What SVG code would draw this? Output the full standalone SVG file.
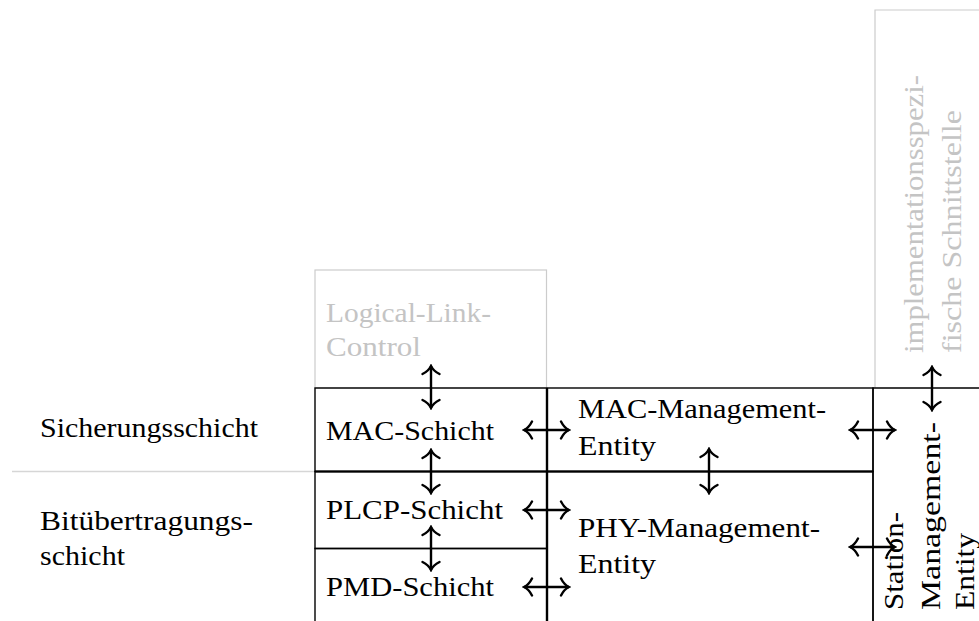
<svg xmlns="http://www.w3.org/2000/svg" width="979" height="621" viewBox="0 0 979 621">
  <style>
    .t { font-family: 'Liberation Serif', 'Times New Roman', serif; font-size: 28px; fill: #000; }
    .dim { font-family: 'Liberation Serif', 'Times New Roman', serif; font-size: 28px; fill: #c4c4c4; }
    .box { fill: none; stroke: #000; stroke-width: 1.4; }
    .gbox { fill: none; stroke: #cccccc; stroke-width: 1.2; }
    .sep { stroke: #000; stroke-width: 2; }
    .arr { stroke: #000; stroke-width: 2.4; fill: none; marker-start: url(#tip); marker-end: url(#tip); }
  </style>
  <defs>
    <marker id="tip" markerUnits="userSpaceOnUse" viewBox="-12 -12 14 24" markerWidth="14" markerHeight="24" refX="0" refY="0" orient="auto-start-reverse">
      <path d="M-8,-8.5 C-6,-4.5 -2.5,-1.2 0,0 C-2.5,1.2 -6,4.5 -8,8.5" fill="none" stroke="#000" stroke-width="2.4" stroke-linecap="round"/>
    </marker>
  </defs>

  <!-- layer labels on the left -->
  <g id="layer-labels">
    <text class="t" x="40" y="437" textLength="218" lengthAdjust="spacingAndGlyphs">Sicherungsschicht</text>
    <text class="t" x="40" y="530" textLength="213" lengthAdjust="spacingAndGlyphs">Bitübertragungs-</text>
    <text class="t" x="40" y="565" textLength="85" lengthAdjust="spacingAndGlyphs">schicht</text>
    <line x1="12" y1="471.5" x2="315" y2="471.5" stroke="#d6d6d6" stroke-width="1.4"/>
  </g>

  <!-- logical link control (outside the standard, drawn faded) -->
  <g id="llc">
    <rect class="gbox" x="315" y="270" width="231.5" height="118"/>
    <text class="dim" x="326" y="322" textLength="165" lengthAdjust="spacingAndGlyphs">Logical-Link-</text>
    <text class="dim" x="326" y="356" textLength="95" lengthAdjust="spacingAndGlyphs">Control</text>
  </g>

  <!-- implementation specific interface (faded) -->
  <g id="impl-interface">
    <polyline class="gbox" points="875,388 875,10 979,10"/>
    <text class="dim" transform="translate(923,353) rotate(-90)" textLength="278" lengthAdjust="spacingAndGlyphs">implementationsspezi-</text>
    <text class="dim" transform="translate(961,353) rotate(-90)" textLength="243" lengthAdjust="spacingAndGlyphs">fische Schnittstelle</text>
  </g>

  <g id="mac-layer">
    <rect class="box" x="315" y="388" width="231.5" height="83.5"/>
    <text class="t" x="326" y="440" textLength="168" lengthAdjust="spacingAndGlyphs">MAC-Schicht</text>
  </g>

  <g id="plcp-layer">
    <rect class="box" x="315" y="471.5" width="231.5" height="77"/>
    <text class="t" x="326" y="519" textLength="177" lengthAdjust="spacingAndGlyphs">PLCP-Schicht</text>
  </g>

  <g id="pmd-layer">
    <polyline class="box" points="315,621 315,548.5 546.5,548.5 546.5,621"/>
    <text class="t" x="326" y="596" textLength="168" lengthAdjust="spacingAndGlyphs">PMD-Schicht</text>
  </g>

  <g id="mac-management">
    <rect class="box" x="547.5" y="388" width="325.5" height="83.5"/>
    <text class="t" x="578" y="418" textLength="248" lengthAdjust="spacingAndGlyphs">MAC-Management-</text>
    <text class="t" x="578" y="455" textLength="78" lengthAdjust="spacingAndGlyphs">Entity</text>
  </g>

  <g id="phy-management">
    <polyline class="box" points="547.5,621 547.5,471.5 873,471.5 873,621"/>
    <text class="t" x="578" y="537" textLength="242" lengthAdjust="spacingAndGlyphs">PHY-Management-</text>
    <text class="t" x="578" y="573" textLength="78" lengthAdjust="spacingAndGlyphs">Entity</text>
  </g>

  <g id="station-management">
    <polyline class="box" points="873,621 873,388 979,388"/>
    <text class="t" transform="translate(903,610) rotate(-90)" textLength="98" lengthAdjust="spacingAndGlyphs">Station-</text>
    <text class="t" transform="translate(940,610) rotate(-90)" textLength="188" lengthAdjust="spacingAndGlyphs">Management-</text>
    <text class="t" transform="translate(974,610) rotate(-90)" textLength="77" lengthAdjust="spacingAndGlyphs">Entity</text>
  </g>

  <!-- shared boundary between link and physical layer -->
  <line class="sep" x1="315" y1="471.5" x2="873" y2="471.5"/>

  <g id="connectors">
    <line class="arr" x1="431" y1="366" x2="431" y2="408"/>
    <line class="arr" x1="431" y1="450" x2="431" y2="493"/>
    <line class="arr" x1="431" y1="527" x2="431" y2="570"/>
    <line class="arr" x1="524" y1="430" x2="569" y2="430"/>
    <line class="arr" x1="524" y1="510" x2="569" y2="510"/>
    <line class="arr" x1="524" y1="587" x2="569" y2="587"/>
    <line class="arr" x1="709" y1="449" x2="709" y2="493"/>
    <line class="arr" x1="850" y1="430" x2="895" y2="430"/>
    <line class="arr" x1="850" y1="547" x2="895" y2="547"/>
    <line class="arr" x1="932" y1="367" x2="932" y2="410"/>
  </g>
</svg>
